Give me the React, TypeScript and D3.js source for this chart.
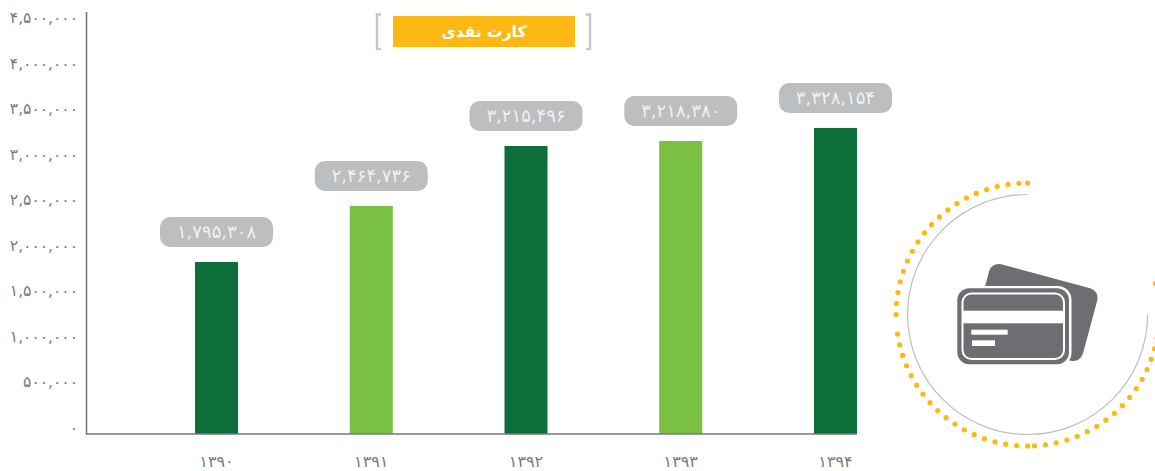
import React from "react";
import * as d3 from "d3";

const years = ["۱۳۹۰", "۱۳۹۱", "۱۳۹۲", "۱۳۹۳", "۱۳۹۴"];
const labelValues = [1795308, 2464736, 3215496, 3218380, 3328154];
const barHeights = [1888000, 2503000, 3161000, 3216000, 3359000];
const barColors = ["#0c6f3a", "#7ac143", "#0c6f3a", "#7ac143", "#0c6f3a"];
const ticks = [0, 500000, 1000000, 1500000, 2000000, 2500000, 3000000, 3500000, 4000000, 4500000];
const title = "کارت نقدی";

const FONT = "'DejaVu Sans', sans-serif";
const fa = (v: number) => d3.format(",")(v).replace(/\d/g, (d) => "۰۱۲۳۴۵۶۷۸۹"[+d]);

const y = d3.scaleLinear().domain([0, 4500000]).range([434, 24]);
const x = d3.scaleBand().domain(years).range([195, 857]).paddingInner(0.722).paddingOuter(0);

const cx = 1027.6, cy = 314.5, R = 131.5, r = 120;
const pt = (deg: number, rad: number): [number, number] => [
  cx + rad * Math.cos((deg * Math.PI) / 180),
  cy + rad * Math.sin((deg * Math.PI) / 180),
];
const STEP = 4.79;
const dotAngles = [
  ...d3.range(180, 270, STEP), 270,
  ...d3.range(90, 172.5, STEP),
  ...d3.range(87, -15, -STEP),
];
const arcPath = d3.arc()({ innerRadius: r, outerRadius: r, startAngle: 0, endAngle: -Math.PI * 1.5 } as any) as string;

export default function App() {
  return (
    <svg width={1155} height={471} style={{ position: "absolute", left: 0, top: 0, fontFamily: FONT }}>
      {/* title */}
      <path d="M381 14.5H377V49H381M586 14.5H590V49H586" fill="none" stroke="#c8c8c8" strokeWidth={2.5} />
      <rect x={393} y={16} width={182} height={31} fill="#fdb913" />
      <text x={484} y={37} textAnchor="middle" fontSize={15.5} fontWeight={700} fill="#fff" direction="rtl">{title}</text>

      {/* ticks */}
      {ticks.map((t) => (
        <text key={t} x={78} y={y(t) - 1} textAnchor="end" fontSize={15.5} fill="#77787b" direction="ltr">{fa(t)}</text>
      ))}

      {/* bars */}
      {years.map((yr, i) => (
        <rect key={yr} x={x(yr)} y={y(barHeights[i])} width={x.bandwidth()} height={434 - y(barHeights[i])} fill={barColors[i]} />
      ))}
      <path d="M86.5 12V434H857" fill="none" stroke="#77787b" strokeWidth={1.6} />

      {/* value bubbles */}
      {years.map((yr, i) => {
        const mid = x(yr)! + x.bandwidth() / 2;
        const top = y(barHeights[i]) - 45;
        return (
          <g key={yr}>
            <rect x={mid - 56.5} y={top} width={113} height={30} rx={10} fill="#bcbec0" />
            <text x={mid} y={top + 21.5} textAnchor="middle" fontSize={18} fill="#fff" fillOpacity={0.8} direction="ltr">{fa(labelValues[i])}</text>
          </g>
        );
      })}

      {/* years */}
      {years.map((yr) => (
        <text key={yr} x={x(yr)! + x.bandwidth() / 2} y={467} textAnchor="middle" fontSize={16} fill="#77787b" direction="ltr">{yr}</text>
      ))}

      {/* ring */}
      <path d={arcPath} transform={`translate(${cx},${cy})`} fill="none" stroke="#bcbec0" strokeWidth={1.2} />
      {dotAngles.map((a, i) => {
        const [px, py] = pt(a, R);
        return <circle key={i} cx={px} cy={py} r={2.6} fill="#fdb913" />;
      })}

      {/* card icon */}
      <rect x={1036 - 56} y={312.5 - 37.5} width={112} height={75} rx={10} fill="#6d6e71" transform="rotate(15 1036 312.5)" />
      <rect x={955} y={286} width={116.5} height={80.5} rx={14} fill="#fff" />
      <rect x={957.3} y={288.3} width={111.7} height={76} rx={12} fill="#6d6e71" />
      <rect x={962.5} y={293.5} width={101.5} height={65.5} rx={9} fill="none" stroke="#fff" strokeWidth={2} />
      <rect x={962.5} y={310.7} width={101.5} height={12.6} fill="#fff" />
      <rect x={971.3} y={329.7} width={36.4} height={5} fill="#fff" />
      <rect x={972} y={340.3} width={23} height={5.7} fill="#fff" />
    </svg>
  );
}
